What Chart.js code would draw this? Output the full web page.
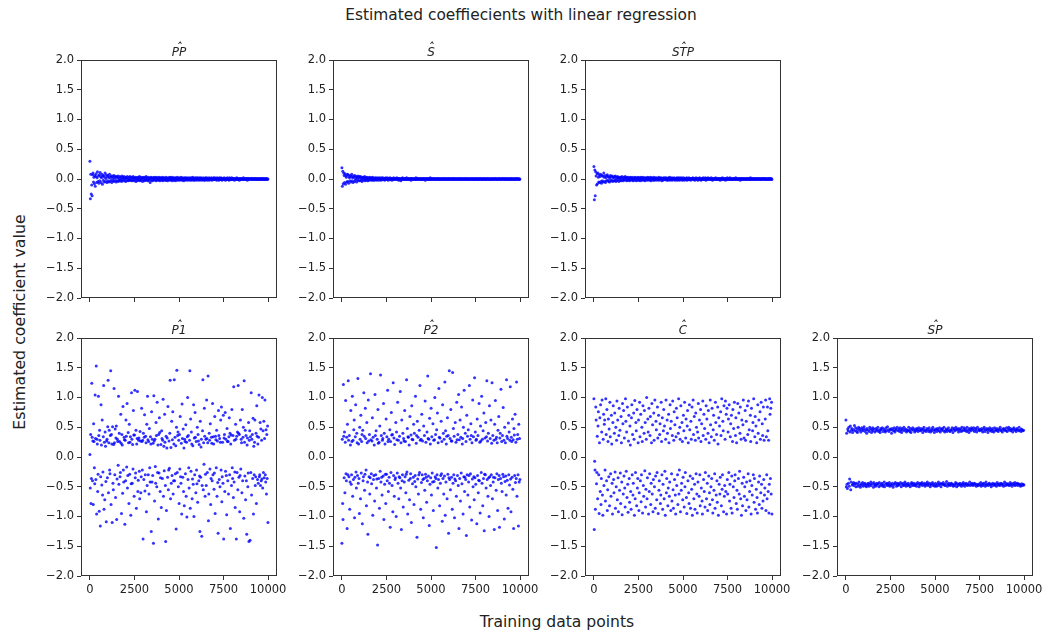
<!DOCTYPE html>
<html>
<head>
<meta charset="utf-8">
<script src="https://cdn.jsdelivr.net/npm/chart.js@4.4.1/dist/chart.umd.min.js"></script>
<style>
  html, body { margin: 0; padding: 0; background: #ffffff; }
  #fig { position: relative; width: 1043px; height: 634px; overflow: hidden; font-family: 'DejaVu Sans', sans-serif; color: #222; }
  #fig canvas { position: absolute; }
  #suptitle { position: absolute; left: 521px; top: 15px; transform: translate(-50%, -50%); font-size: 15.4px; white-space: nowrap; }
  #xlabel { position: absolute; left: 557px; top: 622px; transform: translate(-50%, -50%); font-size: 15.6px; white-space: nowrap; }
  #ylabel { position: absolute; left: 19px; top: 322px; transform: translate(-50%, -50%) rotate(-90deg); font-size: 15.8px; white-space: nowrap; }
</style>
</head>
<body>
<div id="fig">
  <div id="suptitle">Estimated coeffiecients with linear regression</div>
  <div id="ylabel">Estimated coefficient value</div>
  <div id="xlabel">Training data points</div>
</div>
<script>
// ---------------- data ----------------
const panelNames = ['PP', 'S', 'STP', 'P1', 'P2', 'C', 'SP'];
const xTickValues = [0, 2500, 5000, 7500, 10000];
const yTickValues = [-2.0, -1.5, -1.0, -0.5, 0.0, 0.5, 1.0, 1.5, 2.0];
const xLastSample = 9990; // samples are spread evenly over training points 0 .. 9990

const valuesPP = [
0.30,-0.33,0.08,-0.25,-0.10,-0.28,0.07,0.10,-0.05,0.03,-0.08,0.06,-0.12,0.04,0.09,-0.06,0.02,0.12,-0.04,0.05,
-0.07,0.07,-0.03,0.11,0.04,-0.06,0.02,0.08,-0.09,0.05,-0.02,0.06,-0.05,0.03,0.10,-0.04,0.01,0.07,-0.06,0.04,
-0.03,0.06,-0.05,0.02,0.08,-0.04,0.03,-0.02,0.05,-0.06,0.04,0.01,-0.03,0.06,-0.04,0.02,0.05,-0.02,0.03,-0.05,
0.04,-0.03,0.02,0.05,-0.04,0.01,-0.02,0.04,-0.03,0.03,0.00,-0.04,0.05,-0.01,0.03,-0.03,0.02,0.04,-0.02,0.01,
-0.04,0.03,0.02,-0.03,0.04,-0.01,0.01,-0.03,0.03,-0.02,0.04,0.00,-0.02,0.03,-0.03,0.02,-0.01,0.04,-0.03,0.02,
0.01,-0.02,0.03,-0.04,0.02,0.00,-0.03,0.03,-0.01,0.02,-0.02,0.04,-0.03,0.01,0.03,-0.02,0.00,0.02,-0.04,0.03,
-0.01,0.02,-0.03,0.03,-0.02,0.01,0.04,-0.02,0.02,-0.01,-0.03,0.03,0.00,-0.02,0.02,-0.06,0.01,0.03,-0.02,0.02,
-0.03,0.01,0.02,-0.02,0.03,-0.01,0.00,0.02,-0.03,0.03,-0.02,0.01,0.02,-0.01,-0.02,0.03,0.01,-0.03,0.02,-0.01,
0.02,-0.02,0.01,0.03,-0.03,0.00,0.02,-0.01,0.01,-0.02,0.03,-0.02,0.00,0.02,-0.03,0.01,-0.01,0.02,-0.02,0.03,
-0.01,0.02,-0.02,0.00,0.03,-0.03,0.01,0.02,-0.01,-0.02,0.02,0.01,-0.03,0.02,0.00,-0.01,0.03,-0.02,0.01,-0.01,
0.02,-0.02,0.01,-0.01,0.03,0.00,-0.02,0.02,-0.01,0.01,-0.03,0.02,0.01,-0.02,0.02,-0.01,0.00,0.02,-0.02,0.01,
-0.01,0.02,0.00,-0.02,0.01,0.02,-0.01,-0.02,0.02,0.00,-0.01,0.03,-0.02,0.01,0.01,-0.02,0.02,-0.01,0.00,0.02,
-0.02,0.01,0.02,-0.01,0.00,-0.02,0.02,0.01,-0.01,0.02,-0.02,0.00,0.01,-0.01,0.02,-0.02,0.01,0.00,-0.02,0.02,
0.01,-0.01,0.02,-0.02,0.01,0.00,-0.01,0.02,-0.02,0.01,0.01,-0.01,0.02,0.00,-0.02,0.01,-0.01,0.02,0.00,-0.01,
0.02,-0.01,0.00,0.01,-0.02,0.02,-0.01,0.01,0.00,-0.02,0.02,-0.01,0.01,-0.01,0.02,0.00,-0.02,0.01,0.01,-0.01,
0.00,0.02,-0.01,0.01,-0.02,0.01,0.00,-0.01,0.02,-0.01,0.01,0.00,-0.02,0.02,-0.01,0.01,0.00,-0.01,0.02,-0.01,
0.01,-0.01,0.01,0.00,-0.02,0.01,0.01,-0.01,0.00,0.02,-0.01,0.01,-0.01,0.00,0.01,-0.02,0.01,0.00,-0.01,0.01,
-0.01,0.01,0.00,-0.01,0.02,-0.01,0.00,0.01,-0.01,0.01,0.00,-0.01,0.01,-0.02,0.01,0.00,0.01,-0.01,0.00,0.01,
0.00,-0.01,0.01,0.01,-0.01,0.00,0.01,-0.01,0.00,0.01,-0.01,0.01,0.00,-0.01,0.01,0.00,-0.01,0.01,-0.01,0.00,
0.01,-0.01,0.00,0.01,-0.01,0.01,0.00,-0.01,0.01,0.00,-0.01,0.01,-0.01,0.00,0.01,-0.01,0.00,0.01,-0.01,0.00
];

const valuesS = [
0.19,-0.12,0.13,-0.08,0.10,0.06,-0.06,0.09,-0.09,0.05,0.03,-0.05,0.08,-0.04,0.07,-0.07,0.04,0.02,-0.03,0.06,
-0.05,0.04,0.08,-0.03,0.02,-0.06,0.05,0.03,-0.04,0.06,-0.02,0.01,0.04,-0.05,0.03,-0.01,0.05,-0.03,0.02,0.04,
-0.03,0.02,0.04,-0.02,0.01,-0.04,0.03,0.02,-0.02,0.03,-0.01,0.04,-0.03,0.01,0.02,-0.02,0.03,0.00,-0.03,0.02,
0.01,-0.02,0.03,-0.01,0.02,0.00,-0.02,0.02,-0.01,0.03,-0.02,0.01,0.01,-0.02,0.02,-0.01,0.00,0.02,-0.02,0.01,
-0.01,0.02,0.01,-0.02,0.00,0.02,-0.01,0.01,-0.02,0.02,0.00,-0.01,0.02,-0.01,0.01,0.00,-0.02,0.01,0.02,-0.01,
0.01,-0.01,0.02,0.00,-0.02,0.01,0.01,-0.01,0.02,-0.01,0.00,0.01,-0.02,0.01,0.00,-0.01,0.02,-0.01,0.01,0.00,
-0.01,0.01,0.00,0.02,-0.01,0.00,0.01,-0.02,0.01,0.01,-0.01,0.00,-0.03,0.01,0.01,-0.01,0.02,0.00,-0.01,0.01,
0.00,-0.01,0.01,0.01,-0.01,0.02,0.00,-0.01,0.01,-0.01,0.00,0.01,-0.01,0.01,0.00,-0.02,0.01,0.01,-0.01,0.00,
0.01,0.00,-0.01,0.01,-0.01,0.00,0.02,-0.01,0.00,0.01,-0.01,0.01,0.00,-0.01,0.01,0.00,-0.01,0.01,0.00,-0.01,
0.01,-0.01,0.00,0.01,0.01,-0.01,0.00,-0.02,0.01,0.00,0.01,-0.01,0.01,0.00,-0.01,0.01,-0.01,0.00,0.02,-0.01,
0.00,0.01,-0.01,0.00,0.01,-0.01,0.01,0.00,-0.01,0.01,0.00,-0.01,0.00,0.01,-0.01,0.01,0.00,-0.01,0.01,0.00,
-0.01,0.00,0.01,-0.01,0.00,0.01,0.00,-0.01,0.01,-0.01,0.00,0.01,0.00,-0.01,0.01,0.00,-0.01,0.00,0.01,-0.01,
0.01,0.00,-0.01,0.00,0.01,-0.01,0.00,0.01,0.00,-0.01,0.01,0.00,-0.01,0.01,0.00,0.00,-0.01,0.01,0.00,-0.01,
0.00,0.01,0.00,-0.01,0.01,0.00,-0.01,0.00,0.01,0.00,-0.01,0.01,0.00,-0.01,0.00,0.01,0.00,-0.01,0.01,0.00,
-0.01,0.01,0.00,0.00,-0.01,0.01,0.00,-0.01,0.00,0.01,0.00,0.00,-0.01,0.01,0.00,-0.01,0.01,0.00,-0.01,0.00,
0.01,0.00,-0.01,0.01,0.00,-0.01,0.00,0.01,-0.01,0.00,0.01,0.00,0.00,-0.01,0.01,0.00,-0.01,0.00,0.01,0.00,
0.00,-0.01,0.01,0.00,-0.01,0.00,0.01,0.00,0.00,-0.01,0.01,0.00,-0.01,0.00,0.00,0.01,0.00,-0.01,0.00,0.01,
-0.01,0.00,0.00,0.01,0.00,-0.01,0.01,0.00,-0.01,0.00,0.00,0.01,0.00,-0.01,0.01,0.00,0.00,-0.01,0.00,0.01,
0.00,0.01,-0.01,0.00,0.00,0.01,-0.01,0.00,0.01,0.00,-0.01,0.00,0.01,0.00,-0.01,0.00,0.00,0.01,-0.01,0.00,
0.01,0.00,-0.01,0.00,0.01,0.00,-0.01,0.00,0.00,0.01,-0.01,0.00,0.01,0.00,0.00,-0.01,0.01,0.00,-0.01,0.00
];

const valuesSTP = [
0.21,-0.35,0.15,-0.28,0.12,0.05,-0.10,0.09,-0.08,0.10,0.03,-0.05,0.07,-0.06,0.04,0.08,-0.04,-0.07,0.06,-0.03,
0.05,-0.05,0.10,0.03,-0.04,0.06,-0.06,0.02,-0.03,0.05,0.07,-0.02,0.04,-0.04,0.03,-0.05,0.01,0.06,-0.03,0.04,
-0.02,0.05,-0.04,0.03,0.02,-0.03,0.04,-0.02,0.05,-0.04,0.01,0.03,-0.03,0.04,-0.01,0.02,-0.04,0.03,0.01,-0.02,
0.03,-0.03,0.02,0.04,-0.02,0.01,-0.03,0.03,-0.01,0.02,0.04,-0.02,0.00,0.03,-0.03,0.02,-0.01,0.03,-0.02,0.01,
-0.03,0.02,0.03,-0.01,0.01,-0.02,0.03,0.00,-0.03,0.02,0.01,-0.02,0.03,-0.01,0.02,-0.03,0.01,0.02,-0.02,0.03,
0.00,-0.02,0.02,0.01,-0.03,0.03,-0.01,0.02,-0.02,0.01,0.03,-0.01,-0.02,0.02,0.00,-0.03,0.02,0.01,-0.01,0.02,
-0.02,0.03,-0.01,0.01,0.02,-0.02,0.00,0.03,-0.03,0.01,0.02,-0.01,0.01,-0.02,0.03,0.00,-0.02,0.02,-0.01,0.01,
0.02,-0.02,0.01,0.00,-0.01,0.03,-0.02,0.01,0.02,-0.01,0.00,0.02,-0.03,0.01,0.01,-0.02,0.02,0.00,-0.01,0.02,
-0.01,0.01,0.02,-0.02,0.01,0.00,-0.02,0.02,0.01,-0.01,0.03,-0.02,0.00,0.01,-0.01,0.02,-0.02,0.01,0.01,-0.01,
0.02,0.00,-0.02,0.01,0.01,-0.01,0.02,-0.02,0.00,0.02,-0.01,0.01,-0.02,0.02,0.00,-0.01,0.01,0.02,-0.02,0.00,
-0.01,0.02,0.00,-0.02,0.01,0.01,-0.01,0.00,0.02,-0.02,0.01,0.00,-0.01,0.02,-0.01,0.01,0.00,-0.02,0.01,0.01,
0.01,-0.01,0.02,0.00,-0.01,0.01,-0.02,0.01,0.00,0.02,-0.01,0.00,0.01,-0.02,0.01,0.01,-0.01,0.02,0.00,-0.01,
-0.02,0.01,0.00,0.01,-0.01,0.02,-0.01,0.00,0.01,-0.01,0.02,-0.02,0.01,0.00,-0.01,0.01,0.02,-0.01,0.00,0.01,
0.01,-0.01,0.00,0.02,-0.01,0.01,-0.02,0.01,0.00,-0.01,0.01,0.01,-0.01,0.02,0.00,-0.01,0.01,-0.01,0.01,0.00,
-0.01,0.01,0.01,-0.02,0.00,0.01,-0.01,0.01,0.02,-0.01,0.00,0.01,-0.01,0.00,0.01,-0.02,0.01,0.00,-0.01,0.02,
0.00,-0.01,0.01,0.00,-0.01,0.02,0.00,-0.01,0.01,0.00,-0.01,0.01,-0.01,0.01,0.00,0.01,-0.01,0.00,0.02,-0.01,
0.01,0.00,-0.01,0.01,-0.01,0.00,0.01,0.00,-0.02,0.01,0.01,-0.01,0.00,0.01,-0.01,0.01,0.00,-0.01,0.01,0.00,
-0.01,0.01,0.00,-0.01,0.01,0.01,-0.01,0.00,0.01,-0.01,0.00,0.02,-0.01,0.00,0.01,-0.01,0.01,0.00,-0.01,0.01,
0.00,-0.01,0.01,0.00,0.01,-0.01,0.00,0.01,-0.01,0.00,0.01,0.00,-0.01,0.01,0.00,-0.01,0.01,0.00,-0.01,0.01,
0.01,0.00,-0.01,0.01,0.00,-0.01,0.01,0.00,0.00,-0.01,0.01,0.00,-0.01,0.01,0.00,0.01,-0.01,0.00,0.01,-0.01
];

const valuesP1 = [
0.04,-0.52,0.38,-0.78,-0.36,1.24,0.33,-0.40,0.27,-0.80,0.56,0.26,-0.18,-0.45,1.04,0.31,-0.38,1.53,-0.96,0.30,
0.22,-0.58,-0.29,1.02,0.36,-0.91,0.45,0.28,-1.16,-0.33,0.88,0.20,-0.47,0.62,-0.64,-0.25,0.34,1.20,-0.88,0.25,
-0.72,0.42,0.18,-0.41,-1.09,0.27,0.30,-0.35,0.51,1.29,-0.60,0.24,0.45,-0.22,-0.28,0.36,1.45,-0.80,0.38,0.22,
-1.10,0.51,-0.44,-0.55,0.21,1.15,0.24,-0.30,0.47,-0.68,0.32,0.52,-1.05,-0.37,0.30,0.26,-0.14,1.02,-0.46,0.40,
0.26,-0.33,-0.26,0.72,0.23,-0.95,0.38,0.20,-0.61,0.85,-0.22,-0.42,0.33,0.29,-1.13,0.28,-0.40,0.62,0.35,-0.17,
0.90,-0.52,-0.31,0.41,0.24,-0.78,0.55,-0.29,0.25,0.34,-0.98,-0.45,1.08,0.30,-0.44,0.21,-0.20,0.78,0.37,-0.66,
0.37,1.12,-0.35,-0.27,0.45,-0.86,0.22,0.31,1.10,-0.58,-0.39,0.28,0.32,-0.24,-0.70,0.43,0.27,-0.60,-0.33,0.82,
0.26,-0.22,0.28,-1.38,0.40,-0.38,0.33,0.71,-0.57,-0.30,0.35,0.24,-0.92,0.55,-0.48,1.02,0.29,-0.30,0.26,-0.62,
0.48,-0.18,-0.42,0.34,0.22,-1.25,0.76,-0.42,0.30,-0.31,0.23,-1.45,1.03,0.27,-0.74,0.30,-0.16,-0.44,0.58,0.36,
-0.50,0.92,-0.26,0.20,-1.04,0.38,-0.27,0.66,0.41,-0.58,-0.35,0.21,-0.85,0.44,0.31,-0.36,0.28,0.97,-0.66,0.18,
-0.23,0.72,0.25,-0.48,-1.42,0.35,-0.90,0.15,0.32,-0.34,0.85,-0.55,-0.22,0.27,-0.19,0.40,1.29,-0.70,0.16,-0.44,
0.60,-0.31,0.29,0.76,-0.62,-0.40,0.22,1.30,-0.40,0.33,-0.28,0.19,-1.21,0.50,1.46,-0.26,0.36,0.42,-0.50,0.28,
-0.78,0.38,-0.20,0.68,-0.33,-0.44,0.23,-0.96,0.89,0.31,-0.34,0.47,-0.58,0.15,-0.82,0.30,0.26,-0.28,0.54,-0.66,
0.25,-1.01,0.34,1.00,-0.38,0.36,-0.18,-0.52,0.28,1.45,-0.86,0.64,-0.24,0.42,0.22,-0.70,-0.37,0.19,-0.46,0.88,
-1.00,0.32,-0.30,0.75,0.33,-0.60,0.26,-0.22,-0.45,0.50,-0.76,0.38,0.27,-0.40,0.21,-0.32,-1.25,0.60,-0.34,0.17,
0.30,-1.33,-0.48,0.44,1.30,-0.55,0.24,-0.12,0.82,0.35,-0.66,-0.29,0.30,-0.48,0.96,0.31,-0.26,0.24,1.36,-1.07,
-0.62,0.40,0.28,-0.20,0.56,-0.80,-0.36,0.33,0.23,-0.40,0.90,-0.30,0.34,0.22,-0.54,-0.27,0.68,-0.95,0.35,0.29,
-0.18,0.45,-0.66,0.27,-0.43,-1.28,0.78,0.36,-0.38,0.31,-0.50,0.25,0.62,-0.22,0.84,-0.75,-0.33,0.25,-0.44,0.70,
-1.38,0.32,0.38,-0.58,0.75,-0.24,0.30,-0.31,-0.97,0.48,0.26,-0.40,0.26,-0.62,0.34,0.66,-0.30,0.40,-1.20,0.22,
0.37,-0.48,0.80,-0.18,-0.36,0.36,-0.68,1.18,-0.42,0.28,-0.25,-0.85,0.55,0.30,-1.38,0.35,-0.26,0.42,-0.55,1.20,
0.40,-0.34,0.38,-0.92,-0.31,0.62,-0.20,0.30,0.24,-0.60,0.80,-0.40,0.33,0.50,-1.03,1.28,0.25,-0.32,0.45,-0.72,
0.36,-0.40,-1.30,0.20,0.32,-0.50,-0.27,0.58,-1.42,0.28,0.44,-1.40,0.34,-0.26,1.08,-0.64,0.30,0.38,-0.36,0.65,
-0.96,0.18,-0.30,0.25,0.62,-0.48,-0.33,0.40,-0.78,0.86,0.35,-0.38,0.22,-0.44,0.33,1.04,-0.33,-0.30,0.58,-0.48,
0.47,-0.40,0.28,-0.37,1.00,-0.52,0.44,-0.26,0.60,-0.35,0.31,0.96,-0.30,-0.42,0.46,-0.62,0.38,-0.36,0.52,-1.10
];

const valuesP2 = [
-1.45,0.30,-0.78,-1.05,1.22,0.35,-0.35,0.42,-0.60,0.25,0.95,-0.28,-0.40,0.33,-1.20,0.55,-0.30,1.28,0.28,-0.33,
0.36,-0.88,-0.42,0.20,0.78,-0.46,-0.30,0.26,1.02,-0.66,0.28,-0.38,0.46,0.62,-1.02,-0.34,0.34,0.88,-0.25,-0.52,
0.40,0.24,-0.31,1.32,-0.44,0.22,-0.36,-0.95,0.50,0.30,-0.70,0.70,-0.27,0.26,0.38,-1.12,0.45,-0.40,-0.33,1.08,
0.35,-0.56,-0.29,0.82,0.31,-0.22,-0.82,0.58,0.24,-0.42,-1.30,0.96,0.27,-0.33,0.38,-0.62,-0.35,1.40,0.29,-0.28,
-0.45,0.27,0.66,-0.98,0.33,-0.38,-0.31,0.20,-0.74,1.05,0.36,-0.30,0.44,-0.52,-0.37,0.30,-1.48,0.80,0.23,-0.36,
0.25,-0.86,0.52,-0.24,1.38,-0.42,0.36,-0.34,-0.64,0.28,0.31,-0.32,0.90,-1.05,0.40,-0.46,0.22,-0.29,-0.78,0.64,
-0.29,0.34,-0.40,1.12,0.26,-0.58,0.30,-0.34,-0.44,0.46,-1.18,0.26,-0.26,0.75,0.37,-0.48,0.38,-0.92,1.25,-0.31,
0.32,-0.66,0.21,-0.38,-0.35,0.58,-1.00,0.42,0.29,-0.27,0.92,-0.44,0.28,-0.70,-0.33,0.35,-0.35,1.10,-0.52,0.24,
-1.22,0.62,-0.40,-0.30,0.40,-0.84,0.31,0.27,-0.42,0.78,-0.33,0.26,-0.60,-0.29,1.30,-0.25,0.48,-0.96,0.34,0.33,
-0.39,0.20,-0.72,0.68,-0.36,-0.28,0.37,-1.10,0.86,0.30,-0.45,0.29,-0.34,0.55,-0.80,0.40,-0.41,-0.31,1.02,-0.50,
0.23,0.36,-1.35,0.60,-0.37,0.33,-0.62,-0.30,0.45,-0.26,1.20,0.28,-0.88,0.30,-0.43,0.72,-0.30,0.27,-0.38,-1.02,
0.52,-0.36,0.36,-0.56,0.94,-0.29,0.25,-0.34,-0.76,0.42,-0.40,1.36,0.31,-0.32,0.30,-1.15,0.65,-0.46,0.22,-0.35,
0.82,-0.64,0.34,-0.27,-0.42,0.56,-0.90,0.28,-0.41,0.29,1.00,-0.33,0.38,-0.36,-1.52,0.46,-0.30,0.74,-0.52,0.24,
-0.38,1.15,0.33,-0.82,0.32,-0.44,-0.31,0.60,-0.28,0.26,-1.08,0.88,-0.36,0.40,-0.62,0.30,-0.32,1.26,-0.98,0.44,
-0.42,0.22,0.35,-0.70,0.66,-0.29,0.36,-1.28,-0.35,1.45,-0.38,0.31,-0.55,0.80,0.27,-0.34,0.27,-0.88,1.42,-0.44,
0.48,-0.30,0.35,-1.02,-0.37,0.58,-0.40,0.25,-0.66,0.92,0.29,-0.31,0.38,-0.48,1.05,-1.20,0.29,-0.36,0.62,-0.74,
0.33,-0.27,0.84,-0.45,0.22,0.31,-0.96,0.50,-0.33,1.12,-0.58,-0.34,0.40,-0.38,0.26,-1.32,0.70,-0.30,0.35,-0.64,
0.46,-0.42,-0.31,1.20,-0.84,0.30,-0.28,0.56,0.36,-1.06,0.24,-0.37,0.96,-0.50,0.34,-0.33,-0.72,1.33,-0.35,0.42,
-0.46,0.28,0.30,-1.12,0.64,-0.31,0.36,-0.60,-0.39,0.90,-0.40,0.25,-0.94,0.52,0.27,-0.26,1.02,-0.44,0.30,-0.82,
0.44,-0.36,0.74,-1.24,-0.29,0.32,-0.30,0.58,-0.52,0.34,1.28,-0.38,0.27,-0.66,0.40,-0.35,-1.00,0.86,-0.33,0.31,
-0.48,0.62,-0.30,0.23,1.25,-0.70,0.36,-0.42,-0.34,0.28,-1.22,0.55,-0.35,0.95,0.30,-0.56,0.33,-0.28,0.24,-0.90,
0.45,-0.38,0.68,-0.31,-1.18,0.32,0.40,-0.36,1.14,-0.44,0.26,-0.58,0.36,-0.29,0.83,-0.33,0.28,-1.04,0.50,-0.41,
0.24,-0.32,-0.64,1.30,0.35,-0.39,0.31,-0.86,0.57,-0.30,0.42,-0.47,0.28,1.18,-0.37,-0.92,0.33,0.26,-0.34,0.64,
-0.54,0.29,-1.20,0.48,0.37,-0.31,0.72,-0.43,0.25,-0.36,1.26,-0.66,0.30,0.38,-0.30,-1.16,0.55,-0.42,0.31,-0.38
];

const valuesC = [
0.98,-1.22,-0.07,-0.22,-0.88,0.84,0.62,-0.45,-0.26,0.35,-0.70,0.52,0.76,-0.30,-0.95,0.24,0.66,-0.58,0.88,-0.80,
-0.36,0.42,0.96,-0.64,-0.98,0.30,0.72,-0.48,0.55,0.62,-0.22,-0.74,0.98,0.38,-0.40,0.80,-0.90,-0.55,0.26,0.64,
-0.33,0.47,-0.82,0.92,0.34,-0.28,-0.66,0.70,0.22,-0.44,-0.96,0.58,0.86,-0.38,-0.60,0.40,0.74,-0.25,-0.86,0.50,
-0.50,0.28,0.94,-0.72,0.62,-0.35,-0.92,0.36,0.82,-0.56,0.45,-0.27,-0.78,0.68,0.24,-0.42,-0.97,0.90,0.56,-0.62,
0.78,-0.32,0.32,-0.52,-0.84,0.98,0.60,-0.24,0.42,-0.68,0.84,-0.46,-0.93,0.27,0.70,-0.36,-0.76,0.52,0.20,-0.58,
-0.88,0.66,0.88,-0.30,0.38,-0.64,-0.44,0.74,0.30,-0.98,0.95,-0.70,-0.26,0.58,0.44,-0.82,0.80,-0.52,-0.36,0.24,
0.62,-0.90,-0.60,0.92,0.34,-0.40,0.72,-0.75,-0.30,0.50,0.26,-0.94,0.86,-0.48,-0.66,0.40,0.78,-0.23,0.58,-0.84,
-0.54,0.30,1.00,-0.70,-0.35,0.64,0.42,-0.96,0.82,-0.58,-0.28,0.36,0.68,-0.80,-0.44,0.24,0.90,-0.62,0.54,-0.92,
-0.38,0.74,0.28,-0.50,0.96,-0.86,-0.32,0.60,0.46,-0.72,-0.26,0.84,0.32,-0.95,0.70,-0.56,-0.40,0.38,0.56,-0.78,
-0.64,0.92,0.26,-0.30,0.66,-0.88,-0.46,0.44,0.80,-0.70,0.52,-0.24,-0.98,0.30,0.96,-0.60,-0.36,0.62,0.40,-0.82,
-0.52,0.72,0.24,-0.66,-0.42,0.88,0.48,-0.90,0.60,-0.28,-0.74,0.36,0.94,-0.55,-0.86,0.28,0.76,-0.38,0.54,-0.64,
-0.96,0.34,0.82,-0.48,0.66,-0.30,-0.80,0.40,0.98,-0.62,-0.22,0.50,0.30,-0.92,0.86,-0.56,-0.44,0.58,0.26,-0.72,
-0.34,0.70,0.44,-0.84,0.92,-0.50,-0.26,0.32,0.64,-0.68,-0.95,0.52,0.78,-0.40,0.24,-0.60,-0.78,0.88,0.46,-0.32,
-0.86,0.60,0.30,-0.54,0.84,-0.98,-0.36,0.96,0.38,-0.70,0.68,-0.46,-0.88,0.28,0.74,-0.28,0.50,-0.62,-0.94,0.42,
-0.42,0.90,0.32,-0.66,0.62,-0.30,-0.82,0.80,0.26,-0.52,0.56,-0.74,-0.96,0.94,0.36,-0.38,0.72,-0.58,0.48,-0.84,
-0.26,0.30,0.86,-0.70,0.64,-0.44,-0.90,0.40,0.78,-0.32,0.24,-0.60,-0.80,0.96,0.54,-0.50,0.34,-0.36,0.82,-0.72,
-0.94,0.46,0.70,-0.56,0.28,-0.28,-0.86,0.92,0.58,-0.64,0.38,-0.40,-0.76,0.84,0.22,-0.98,0.66,-0.46,0.52,-0.62,
-0.34,0.76,0.36,-0.82,0.98,-0.54,-0.30,0.60,0.44,-0.92,0.86,-0.66,-0.48,0.30,0.94,-0.58,0.72,-0.96,0.82,-0.38,
-0.62,0.42,0.64,-0.26,0.88,-0.74,-0.46,0.34,0.56,-0.86,0.70,-0.32,-0.94,0.26,0.80,-0.50,0.48,-0.68,0.92,-0.40,
-0.30,0.36,0.66,-0.78,0.24,-0.56,-0.88,0.90,0.50,-0.36,0.74,-0.62,-0.24,0.40,0.84,-0.70,0.30,-0.98,0.62,-0.44,
-0.82,0.54,0.96,-0.34,0.32,-0.66,-0.50,0.78,0.28,-0.90,0.60,-0.42,-0.72,0.86,0.38,-0.28,0.94,-0.84,0.46,-0.58,
-0.40,0.70,0.26,-0.96,0.82,-0.48,-0.64,0.44,0.58,-0.30,0.98,-0.76,-0.36,0.34,0.68,-0.88,0.52,-0.54,0.24,-0.68,
-0.94,0.88,0.40,-0.42,0.62,-0.80,-0.32,0.76,0.30,-0.60,0.92,-0.46,-0.86,0.56,0.36,-0.74,0.84,-0.38,0.28,-0.64,
-0.52,0.64,0.96,-0.90,0.34,-0.30,-0.70,0.84,0.44,-0.58,0.28,-0.94,-0.46,0.98,0.72,-0.36,0.82,-0.62,0.92,-0.96
];

const valuesSP = [
0.62,-0.50,0.40,-0.46,-0.53,0.47,0.44,-0.44,0.50,-0.49,-0.37,0.42,0.52,-0.55,-0.42,0.45,0.48,-0.47,0.41,-0.45,
0.46,-0.43,-0.48,0.53,0.44,-0.45,0.49,-0.50,-0.44,0.43,0.47,0.41,-0.49,-0.46,0.50,-0.42,0.45,0.48,-0.48,-0.51,
0.42,-0.45,0.46,0.49,-0.47,-0.43,0.44,-0.49,0.47,0.51,-0.46,-0.44,0.43,-0.48,0.46,-0.50,0.40,0.48,-0.45,-0.47,
0.45,-0.44,-0.49,0.43,0.50,-0.46,0.47,-0.42,-0.48,0.41,0.46,-0.45,0.49,0.44,-0.51,-0.43,0.47,-0.47,0.42,-0.46,
-0.49,0.48,0.44,-0.44,-0.47,0.46,0.50,-0.45,0.43,-0.50,-0.43,0.45,0.41,-0.48,0.48,0.46,-0.46,-0.44,0.49,-0.49,
0.43,-0.47,0.47,-0.42,-0.50,0.45,0.42,-0.46,0.49,0.44,-0.44,-0.48,0.51,-0.45,0.46,-0.47,0.43,-0.43,-0.49,0.47,
0.46,-0.46,-0.48,0.40,0.48,-0.44,0.45,-0.51,-0.47,0.44,0.49,-0.45,0.42,-0.43,0.47,0.45,-0.49,-0.46,0.50,-0.44,
-0.48,0.44,0.47,-0.45,-0.47,0.43,0.49,-0.43,0.46,-0.50,0.41,-0.46,0.48,0.45,-0.44,-0.48,0.50,-0.47,0.44,-0.42,
0.47,-0.45,-0.49,0.42,0.46,-0.46,0.44,-0.48,-0.44,0.50,0.45,-0.47,0.43,-0.50,0.48,0.41,-0.45,-0.43,0.46,-0.48,
0.49,-0.46,0.45,-0.44,-0.48,0.42,0.47,-0.47,0.44,-0.45,-0.49,0.48,0.46,-0.43,0.43,-0.46,0.49,-0.50,0.45,-0.44,
-0.47,0.44,0.48,-0.45,0.46,-0.43,-0.48,0.41,0.47,-0.46,0.50,0.44,-0.44,-0.49,0.45,-0.47,0.43,-0.45,0.48,-0.42,
0.46,-0.48,-0.46,0.43,0.49,-0.44,0.45,-0.50,0.42,-0.47,-0.45,0.47,0.44,-0.43,0.50,-0.48,-0.46,0.46,0.41,-0.49,
0.45,-0.44,0.47,-0.47,-0.49,0.43,0.48,-0.45,0.46,-0.42,-0.48,0.44,0.49,-0.46,0.42,-0.44,-0.50,0.47,0.45,-0.46,
0.48,-0.46,-0.43,0.44,0.50,-0.47,0.42,-0.48,-0.45,0.45,0.47,-0.41,0.43,-0.49,0.46,-0.46,0.49,-0.44,-0.47,0.44,
0.43,-0.48,0.46,-0.45,-0.44,0.45,0.49,-0.47,0.41,-0.49,-0.46,0.48,0.46,-0.48,0.44,-0.43,0.50,-0.45,-0.50,0.47,
0.46,-0.45,-0.48,0.42,0.48,-0.46,0.45,-0.44,-0.47,0.47,0.43,-0.49,0.50,-0.45,0.44,-0.47,-0.43,0.46,0.49,-0.46,
-0.49,0.44,0.47,-0.44,-0.46,0.43,0.50,-0.48,0.45,-0.45,-0.47,0.41,0.48,-0.42,0.46,-0.48,0.44,-0.46,0.49,-0.44,
0.47,-0.46,-0.48,0.45,0.49,-0.44,0.43,-0.47,-0.45,0.48,0.46,-0.49,0.42,-0.46,0.50,-0.48,-0.47,0.45,0.47,-0.45,
0.44,-0.47,0.46,-0.43,-0.49,0.48,0.45,-0.46,0.42,-0.48,-0.44,0.47,0.50,-0.45,0.43,-0.49,0.46,-0.42,-0.47,0.48,
-0.46,0.45,0.41,-0.48,0.47,-0.45,-0.44,0.49,0.44,-0.47,0.46,-0.50,-0.46,0.43,0.48,-0.44,0.45,-0.48,0.42,-0.46,
0.49,-0.45,-0.47,0.46,0.44,-0.49,0.48,-0.43,-0.46,0.45,0.43,-0.47,0.47,-0.45,-0.48,0.50,0.46,-0.44,0.44,-0.47,
-0.45,0.42,0.47,-0.46,-0.49,0.48,0.45,-0.42,0.46,-0.48,-0.44,0.44,0.49,-0.47,0.43,-0.46,-0.45,0.47,0.50,-0.48,
0.45,-0.47,-0.43,0.48,0.44,-0.45,0.46,-0.49,-0.46,0.42,0.47,-0.44,0.49,-0.47,0.45,-0.43,-0.48,0.46,0.43,-0.46,
0.48,-0.44,0.46,-0.48,-0.45,0.44,0.50,-0.46,0.45,-0.47,-0.49,0.43,0.47,-0.45,0.46,-0.48,0.44,-0.46,0.45,-0.47
];

const panelValues = [valuesPP, valuesS, valuesSTP, valuesP1, valuesP2, valuesC, valuesSP];

// ---------------- layout / style ----------------
const colLefts = [81, 333, 585, 837];
const rowTops = [60, 338];
const panelSlots = [[0,0],[0,1],[0,2],[1,0],[1,1],[1,2],[1,3]]; // [row, col]
const PLOT_W = 196, PLOT_H = 238;
const Y_AXIS_W = 45, X_AXIS_H = 24, TITLE_H = 24, PAD_R = 24;
const TITLE_LINE = 0.35, TITLE_SIZE = 12, TITLE_PAD_BOTTOM = 4.6;
const TEXT_COLOR = '#222';
const LINE_COLOR = '#333';
const FONT = "'DejaVu Sans'";

function fmtY(v) {
  const s = Math.abs(v).toFixed(1);
  return v < 0 ? '\u2212' + s : s;
}

const framePlugin = {
  id: 'frame',
  afterDraw(chart) {
    const a = chart.chartArea, ctx = chart.ctx;
    ctx.save();
    ctx.strokeStyle = LINE_COLOR;
    ctx.lineWidth = 1;
    const l = Math.round(a.left) + 0.5, t = Math.round(a.top) + 0.5;
    const r = Math.round(a.right) - 0.5, b = Math.round(a.bottom) - 0.5;
    ctx.strokeRect(l, t, r - l, b - t);
    ctx.restore();
  }
};

const fig = document.getElementById('fig');

panelNames.forEach((name, k) => {
  const [row, col] = panelSlots[k];
  const vals = panelValues[k];
  const n = vals.length;
  const pts = vals.map((y, i) => ({ x: i * xLastSample / (n - 1), y: y }));
  const showXLabels = row === 1;

  const canvas = document.createElement('canvas');
  canvas.width = Y_AXIS_W + PLOT_W + PAD_R;
  canvas.height = TITLE_H + PLOT_H + X_AXIS_H;
  canvas.style.width = canvas.width + 'px';
  canvas.style.height = canvas.height + 'px';
  canvas.style.left = (colLefts[col] - Y_AXIS_W) + 'px';
  canvas.style.top = (rowTops[row] - TITLE_H) + 'px';
  fig.appendChild(canvas);

  const titleLineH = TITLE_LINE * TITLE_SIZE;

  new Chart(canvas, {
    type: 'scatter',
    data: {
      datasets: [{
        data: pts,
        pointRadius: 1.5,
        pointHoverRadius: 1.5,
        pointBorderWidth: 0,
        pointBackgroundColor: 'rgba(0,0,255,0.8)',
        pointBorderColor: 'rgba(0,0,255,0)'
      }]
    },
    options: {
      responsive: false,
      animation: false,
      events: [],
      layout: { padding: { left: 0, right: PAD_R, top: 0, bottom: 0 } },
      plugins: {
        legend: { display: false },
        tooltip: { enabled: false },
        title: {
          display: true,
          fullSize: false,
          text: ['\u02C6', name],
          color: TEXT_COLOR,
          font: { family: FONT, size: TITLE_SIZE, style: 'italic', weight: 'normal', lineHeight: TITLE_LINE },
          padding: { top: TITLE_H - 2 * titleLineH - TITLE_PAD_BOTTOM, bottom: TITLE_PAD_BOTTOM }
        }
      },
      scales: {
        x: {
          type: 'linear',
          min: -500,
          max: 10500,
          afterBuildTicks: s => { s.ticks = xTickValues.map(v => ({ value: v })); },
          afterFit: s => { s.height = X_AXIS_H; },
          border: { display: false },
          grid: { display: true, drawOnChartArea: false, drawTicks: true, tickLength: 4, tickColor: LINE_COLOR, color: LINE_COLOR },
          ticks: {
            display: showXLabels,
            maxRotation: 0,
            autoSkip: false,
            padding: 3,
            color: TEXT_COLOR,
            font: { family: FONT, size: 11.5 },
            callback: v => String(v)
          }
        },
        y: {
          type: 'linear',
          min: -2,
          max: 2,
          afterBuildTicks: s => { s.ticks = yTickValues.map(v => ({ value: v })); },
          afterFit: s => { s.width = Y_AXIS_W; },
          border: { display: false },
          grid: { display: true, drawOnChartArea: false, drawTicks: true, tickLength: 4, tickColor: LINE_COLOR, color: LINE_COLOR },
          ticks: {
            autoSkip: false,
            padding: 3,
            color: TEXT_COLOR,
            font: { family: FONT, size: 11.5 },
            callback: v => fmtY(v)
          }
        }
      }
    },
    plugins: [framePlugin]
  });
});
</script>
</body>
</html>
